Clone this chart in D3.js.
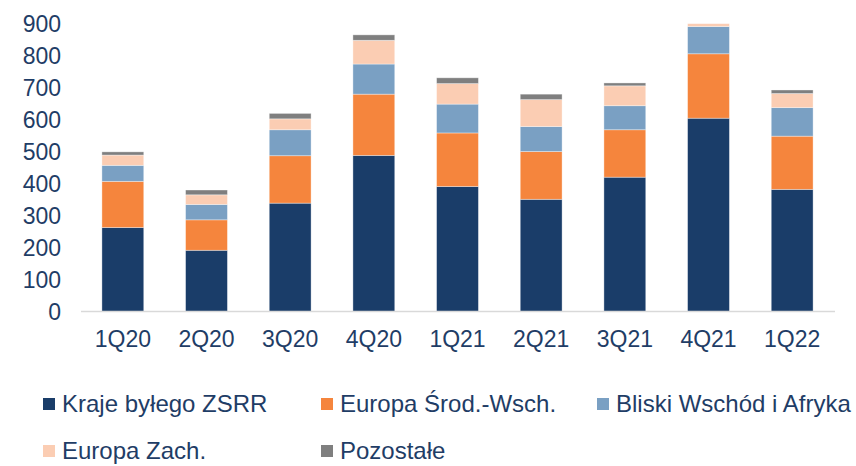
<!DOCTYPE html>
<html>
<head>
<meta charset="utf-8">
<script src="https://cdn.jsdelivr.net/npm/d3@7"></script>
<style>
  html, body { margin: 0; padding: 0; background: #fff; }
  svg { display: block; font-family: "Liberation Sans", Arial, sans-serif; }
</style>
</head>
<body>
<svg id="chart" width="856" height="466"></svg>
<script>
const categories = ["1Q20","2Q20","3Q20","4Q20","1Q21","2Q21","3Q21","4Q21","1Q22"];
const seriesNames = ["Kraje byłego ZSRR","Europa Środ.-Wsch.","Bliski Wschód i Afryka","Europa Zach.","Pozostałe"];
const krajeZSRR   = [262, 191, 338, 487, 390, 350, 419, 603, 381];
const europaSW    = [144,  95, 148, 191, 167, 149, 148, 201, 166];
const bliskiWsch  = [ 50,  48,  81,  94,  90,  78,  75,  85,  89];
const europaZach  = [ 32,  30,  34,  74,  64,  84,  62,   9,  44];
const pozostale   = [ 10,  15,  17,  17,  18,  17,   9,   0,  11];
const yTicks = [0,100,200,300,400,500,600,700,800,900];
const colors = ["#1a3d69","#f5853d","#7aa0c3","#fbcdb3","#7f7f7f"];
const textColor = "#1f3d66";

const seriesData = [krajeZSRR, europaSW, bliskiWsch, europaZach, pozostale];
const rows = categories.map((c,i) => {
  const r = {cat: c};
  seriesNames.forEach((s,j) => r[s] = seriesData[j][i]);
  return r;
});

const svg = d3.select("#chart");
const x = d3.scaleBand().domain(categories).range([81, 834]).paddingInner(0.5).paddingOuter(0.25);
const y = d3.scaleLinear().domain([0, 900]).range([311.5, 23]);

const stack = d3.stack().keys(seriesNames)(rows);

svg.append("g").selectAll("g").data(stack).join("g")
  .attr("fill", (d,i) => colors[i])
  .selectAll("rect").data(d => d).join("rect")
  .attr("x", d => x(d.data.cat))
  .attr("width", x.bandwidth())
  .attr("y", d => y(d[1]))
  .attr("height", d => Math.max(0, y(d[0]) - y(d[1])))
  .attr("stroke", "rgba(255,255,255,0.45)")
  .attr("stroke-width", 0.8);

// baseline
svg.append("line")
  .attr("x1", 81).attr("x2", 835)
  .attr("y1", y(0)).attr("y2", y(0))
  .attr("stroke", "#d9d9d9").attr("stroke-width", 1.5);

// y axis
const yAxis = d3.axisLeft(y).tickValues(yTicks).tickSize(0).tickPadding(0);
const gy = svg.append("g").attr("transform", "translate(61,0)").call(yAxis);
gy.select(".domain").remove();
gy.selectAll("text").attr("fill", textColor).attr("font-size", 23)
  .attr("font-family", "'Liberation Sans', Arial, sans-serif").attr("dy", "0.35em");

// x axis
const xAxis = d3.axisBottom(x).tickSize(0).tickPadding(0);
const gx = svg.append("g").attr("transform", "translate(0,339)").call(xAxis);
gx.select(".domain").remove();
gx.selectAll("text").attr("fill", textColor).attr("font-size", 23)
  .attr("font-family", "'Liberation Sans', Arial, sans-serif").attr("dy", "0.35em");

// legend
const legendPos = [[43,404],[321,404],[597,404],[43,451],[321,451]];
const lg = svg.append("g").selectAll("g").data(seriesNames).join("g")
  .attr("transform", (d,i) => `translate(${legendPos[i][0]},${legendPos[i][1]})`);
lg.append("rect").attr("x", 0).attr("y", -6).attr("width", 12).attr("height", 12)
  .attr("fill", (d,i) => colors[i]);
lg.append("text").attr("x", 19).attr("y", 0).attr("dy", "0.35em")
  .attr("fill", textColor).attr("font-size", 24).text(d => d);
</script>
</body>
</html>
